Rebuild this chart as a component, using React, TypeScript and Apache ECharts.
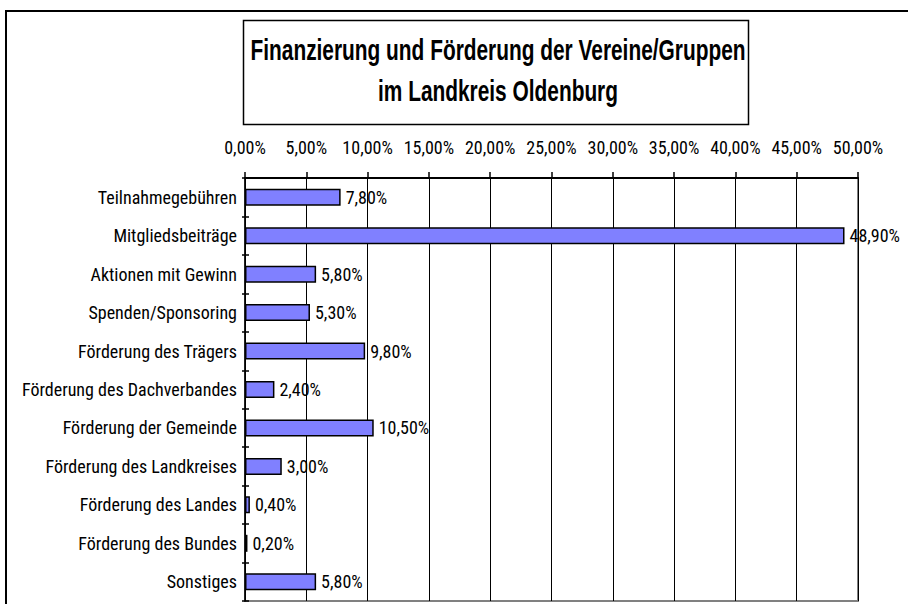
import React, { useEffect, useRef } from "react";
import * as echarts from "echarts";

const categories = [
  "Teilnahmegebühren",
  "Mitgliedsbeiträge",
  "Aktionen mit Gewinn",
  "Spenden/Sponsoring",
  "Förderung des Trägers",
  "Förderung des Dachverbandes",
  "Förderung der Gemeinde",
  "Förderung des Landkreises",
  "Förderung des Landes",
  "Förderung des Bundes",
  "Sonstiges",
];
const values = [7.8, 48.9, 5.8, 5.3, 9.8, 2.4, 10.5, 3.0, 0.4, 0.2, 5.8];
const titleLines = ["Finanzierung und Förderung der Vereine/Gruppen", "im Landkreis Oldenburg"];

const NARROW = '"Roboto Condensed", "Liberation Sans", Arial, sans-serif';
const fmt = (v: number) => v.toFixed(2).replace(".", ",") + "%";

export default function App() {
  const ref = useRef<HTMLDivElement>(null);
  useEffect(() => {
    document.body.style.margin = "0";
    if (!ref.current) return;
    const chart = echarts.init(ref.current, undefined, { renderer: "svg" });
    chart.setOption({
      animation: false,
      backgroundColor: "#ffffff",
      grid: {
        left: 245,
        right: 50,
        top: 178,
        bottom: 3,
        containLabel: false,
        outerBoundsMode: "none",
        show: true,
        borderColor: "#808080",
        borderWidth: 2,
        backgroundColor: "transparent",
      },
      xAxis: {
        type: "value",
        position: "top",
        min: 0,
        max: 50,
        interval: 5,
        axisLine: { show: true, lineStyle: { color: "#000", width: 2 } },
        axisTick: { show: true, inside: false, length: 6, lineStyle: { color: "#000", width: 1.5 } },
        axisLabel: {
          color: "#000",
          fontFamily: NARROW,
          fontSize: 18,
          margin: 22,
          showMinLabel: true,
          showMaxLabel: true,
          hideOverlap: false,
          formatter: (v: number) => fmt(v),
        },
        splitLine: { show: true, lineStyle: { color: "#000", width: 1 } },
      },
      yAxis: [
        {
          type: "category",
          data: categories,
          inverse: true,
          axisLine: { show: true, lineStyle: { color: "#000", width: 1.5 } },
          axisTick: { show: true, inside: false, length: 3, lineStyle: { color: "#000", width: 1.5 } },
          axisLabel: { color: "#000", fontFamily: NARROW, fontSize: 18, margin: 8, interval: 0 },
          splitLine: { show: false },
        },
        {
          type: "category",
          data: categories,
          inverse: true,
          position: "left",
          axisLine: { show: false },
          axisTick: { show: true, inside: true, length: 4, lineStyle: { color: "#000", width: 1.5 } },
          axisLabel: { show: false },
          splitLine: { show: false },
        },
      ],
      series: [
        {
          type: "bar",
          yAxisIndex: 0,
          data: values,
          barWidth: 17,
          itemStyle: { color: "#8080FF", borderColor: "#000", borderWidth: 1.5 },
          label: {
            show: true,
            position: "right",
            distance: 5,
            color: "#000",
            fontFamily: NARROW,
            fontSize: 18,
            formatter: (p: any) => fmt(p.value),
          },
        },
      ],
      graphic: [
        {
          type: "rect",
          shape: { x: 6, y: 11, width: 1000, height: 800 },
          style: { fill: "none", stroke: "#000", lineWidth: 2 },
          silent: true,
        },
        {
          type: "rect",
          shape: { x: 243.5, y: 20.5, width: 505, height: 104 },
          style: { fill: "#fff", stroke: "#000", lineWidth: 1.5 },
          silent: true,
        },
        {
          type: "text",
          x: 498,
          y: 50,
          scaleX: 0.72,
          style: {
            text: titleLines[0],
            fill: "#000",
            font: 'bold 29px "Liberation Sans", Arial, sans-serif',
            textAlign: "center",
            textVerticalAlign: "middle",
          },
          silent: true,
        },
        {
          type: "text",
          x: 498,
          y: 91,
          scaleX: 0.72,
          style: {
            text: titleLines[1],
            fill: "#000",
            font: 'bold 29px "Liberation Sans", Arial, sans-serif',
            textAlign: "center",
            textVerticalAlign: "middle",
          },
          silent: true,
        },
      ],
    });
    return () => chart.dispose();
  }, []);
  return <div ref={ref} style={{ width: 908, height: 604 }} />;
}
